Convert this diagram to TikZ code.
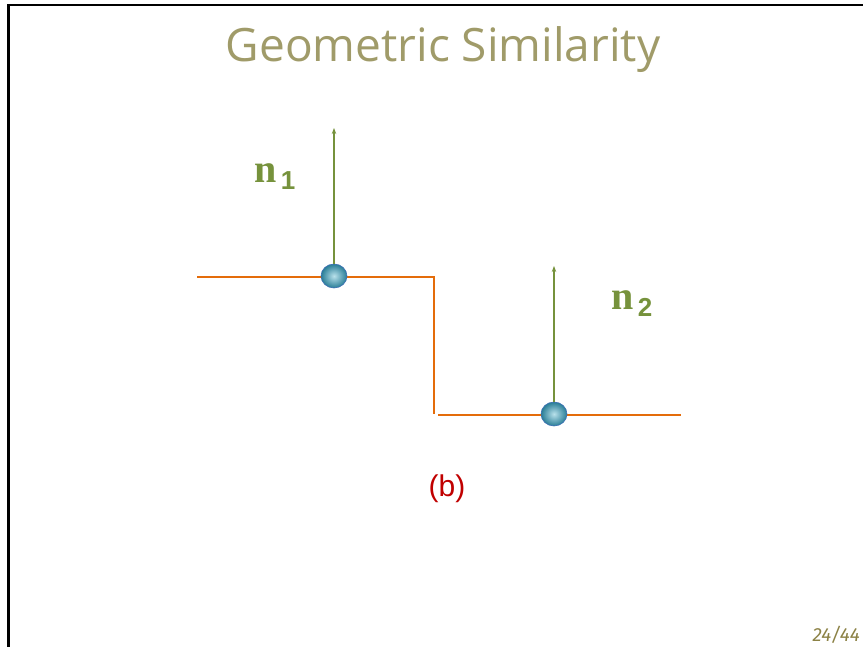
\documentclass[tikz,border=0pt]{standalone}
\usepackage{fontspec}
\setmainfont{Liberation Serif}
\newfontfamily\titlefont{Open Sans}
\newfontfamily\labfont{Liberation Sans}
\newfontfamily\pagefont{Fira Sans}
\usetikzlibrary{arrows.meta,shapes.geometric}
\definecolor{titleol}{RGB}{160,155,105}
\definecolor{edgeor}{RGB}{228,108,10}
\definecolor{normgr}{RGB}{118,146,60}
\definecolor{balltl}{RGB}{40,125,150}
\definecolor{balllt}{RGB}{185,225,235}
\definecolor{ballbd}{RGB}{60,110,180}
\definecolor{labred}{RGB}{192,0,0}
\definecolor{pageol}{RGB}{140,130,70}
\begin{document}
\begin{tikzpicture}[x=1pt,y=-1pt,
  edge/.style={draw=edgeor,line width=2.4pt},
  normal/.style={draw=normgr,line width=1.2pt,-{Stealth[length=6pt,width=4.5pt]}},
  pt/.style={ellipse,minimum width=26pt,minimum height=24pt,inner sep=0pt,inner color=balllt,outer color=balltl,draw=ballbd,line width=0.6pt},
  nlab/.style={text=normgr,inner sep=0pt}]
\useasboundingbox (0,0) rectangle (863,647);
% frame
\draw[line width=2.5pt,black] (8.5,647) -- (8.5,5) -- (863,5);
% title
\node[text=titleol,font=\titlefont\fontsize{46}{46}\selectfont,inner sep=0pt,anchor=base] (title) at (443,62) {Geometric Similarity};
% edges
\coordinate (a0) at (197,277);
\coordinate (a1) at (434,277);
\coordinate (a2) at (434,414);
\coordinate (b0) at (438,415);
\coordinate (b1) at (681,415);
\draw[edge] (a0) -- (a1) -- (a2);
\draw[edge] (b0) -- (b1);
% normals
\coordinate (t1) at (334,128);
\coordinate (t2) at (554,266);
\node[pt] (p1) at (334,276) {};
\node[pt] (p2) at (554,414) {};
\draw[normal] (p1.north) -- (t1);
\draw[normal] (p2.north) -- (t2);
% labels
\node[nlab,anchor=base west] (n1) at (254,183) {\bfseries\fontsize{40}{40}\selectfont n\raisebox{-7pt}{\labfont\fontsize{26}{26}\selectfont\,1}};
\node[nlab,anchor=base west] (n2) at (611,310) {\bfseries\fontsize{40}{40}\selectfont n\raisebox{-7pt}{\labfont\fontsize{26}{26}\selectfont\,2}};
\node[text=labred,font=\labfont\fontsize{30}{30}\selectfont,inner sep=0pt] (cap) at (447,489) {(b)};
\node[text=pageol,font=\pagefont\itshape\fontsize{19}{19}\selectfont,inner sep=0pt,anchor=base east] (page) at (860,641) {24/44};
\end{tikzpicture}
\end{document}
